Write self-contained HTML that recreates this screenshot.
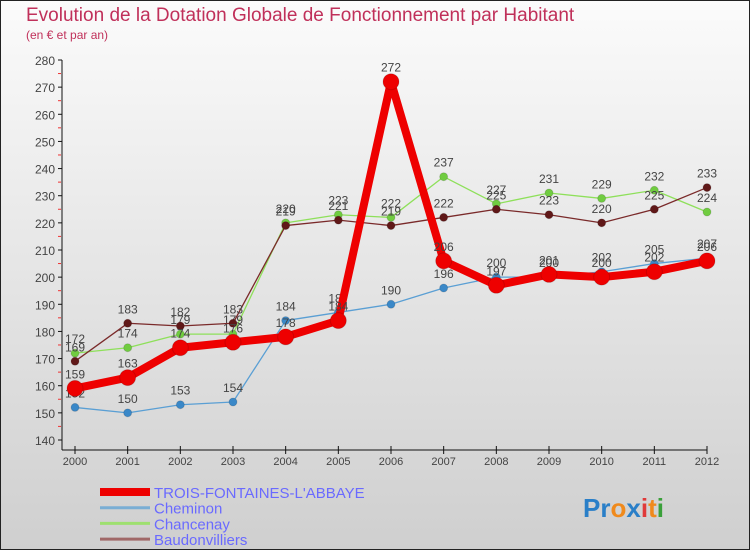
<!DOCTYPE html>
<html><head><meta charset="utf-8"><style>
body{margin:0;width:750px;height:550px;overflow:hidden}
svg{display:block;font-family:"Liberation Sans",sans-serif}
</style></head><body>
<svg id="c" width="750" height="550" xmlns="http://www.w3.org/2000/svg">
<defs><linearGradient id="bg" x1="0" y1="0" x2="0" y2="1"><stop offset="0" stop-color="#fbfbfb"/><stop offset="1" stop-color="#cfcfcf"/></linearGradient></defs>
<rect x="0.5" y="0.5" width="749" height="549" fill="url(#bg)" stroke="#222"/>
<text x="26" y="21" font-size="19" fill="#c0305a">Evolution de la Dotation Globale de Fonctionnement par Habitant</text>
<text x="26" y="39" font-size="12" fill="#c0305a">(en € et par an)</text>
<g id="axes"></g><g id="series"></g><g id="legend"></g>
<g font-size="26" font-weight="bold">
<text x="583" y="517"><tspan fill="#2a7fc8">Pr</tspan><tspan fill="#f08a1c">o</tspan><tspan fill="#2a7fc8">x</tspan><tspan fill="#e03a3a">i</tspan><tspan fill="#f08a1c">t</tspan><tspan fill="#3aa03a">i</tspan></text></g>
</svg>
<script>
const years=[2000,2001,2002,2003,2004,2005,2006,2007,2008,2009,2010,2011,2012];
const yTicks=[140,150,160,170,180,190,200,210,220,230,240,250,260,270,280];
const names=["TROIS-FONTAINES-L'ABBAYE","Cheminon","Chancenay","Baudonvilliers"];
const trois=[159,163,174,176,178,184,272,206,197,201,200,202,206];
const cheminon=[152,150,153,154,184,187,190,196,200,200,202,205,207];
const chancenay=[172,174,179,179,220,223,222,237,227,231,229,232,224];
const baudon=[169,183,182,183,219,221,219,222,225,223,220,225,233];
const NS="http://www.w3.org/2000/svg";
const X=i=>75+i*(707-75)/12;
const Y=v=>440-(v-140)*(380/140);
function mk(t,a,p){const e=document.createElementNS(NS,t);for(const k in a)e.setAttribute(k,a[k]);p.appendChild(e);return e;}
const ax=document.getElementById('axes');
let l=mk('line',{x1:62,y1:60,x2:62,y2:450,stroke:'#111'},ax);


l=mk('line',{x1:62,y1:450,x2:707,y2:450,stroke:'#111'},ax);


yTicks.forEach((v,i)=>{const y=Y(v);mk('line',{x1:58,y1:y,x2:62,y2:y,stroke:'#111'},ax);
if(i<yTicks.length-1)mk('line',{x1:58,y1:y-13.6,x2:61,y2:y-13.6,stroke:'#e33'},ax);
const t=mk('text',{x:55,y:y+5,'text-anchor':'end','font-size':12,fill:'#444'},ax);t.textContent=v;

});
years.forEach((yr,i)=>{const x=X(i);mk('line',{x1:x,y1:446,x2:x,y2:454,stroke:'#111'},ax);
const t=mk('text',{x:x,y:465,'text-anchor':'middle','font-size':11,fill:'#444'},ax);t.textContent=yr;

});
const sg=document.getElementById('series');
const defs=[[cheminon,'#5a9fd4','#3a88c8',1.3,4],[chancenay,'#8ee05a','#70cc40',1.3,4],[baudon,'#7a2a2a','#601818',1.3,4],[trois,'#ee0000','#ee0000',8,8]];
const keys=['cheminon','chancenay','baudonvilliers','trois-fontaines'];
defs.forEach(([d,lc,pc,w,r],k)=>{const g=mk('g',{},sg);


const pl=mk('polyline',{points:d.map((v,i)=>X(i)+','+Y(v)).join(' '),fill:'none',stroke:lc,'stroke-width':w,'stroke-linejoin':'round'},g);


d.forEach((v,i)=>{const c=mk('circle',{cx:X(i),cy:Y(v),r:r,fill:pc,stroke:'#0002'},g);


const t=mk('text',{x:X(i),y:Y(v)-10,'text-anchor':'middle','font-size':12,fill:'#444'},g);t.textContent=v;

});});
const lg=document.getElementById('legend');
const lcol=['#ee0000','#7aaed4','#9ee070','#a06868'],lw=[8,3,3,3];
names.forEach((n,i)=>{const y=492+i*15.7;const g=mk('g',{},lg);


mk('line',{x1:100,y1:y,x2:150,y2:y,stroke:lcol[i],'stroke-width':lw[i]},g);
const t=mk('text',{x:154,y:y+6,'font-size':15,fill:'#6a6aff'},g);t.textContent=n;});
</script>
</body></html>
